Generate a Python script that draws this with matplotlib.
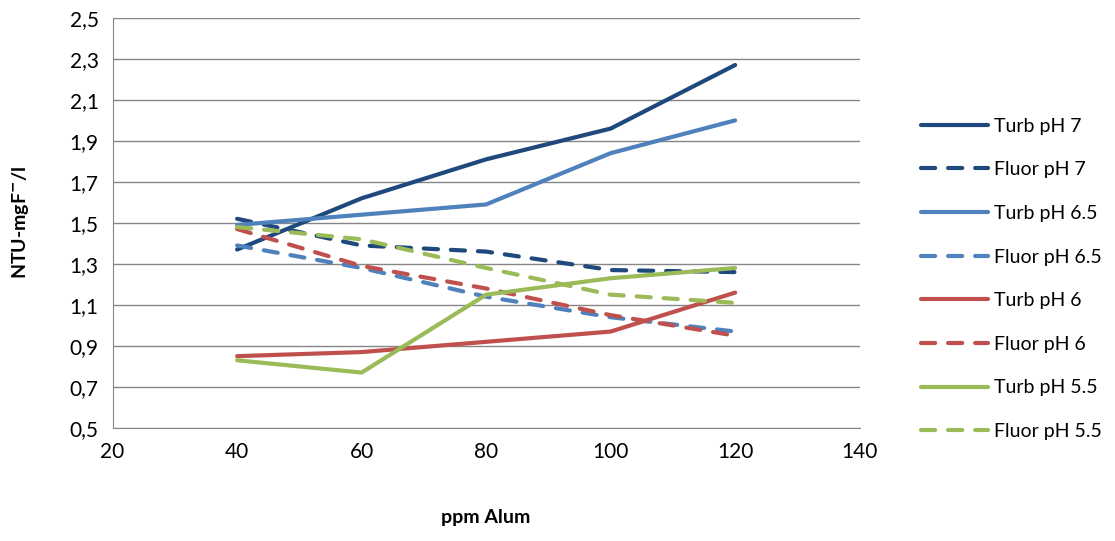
import matplotlib
matplotlib.use("Agg")
import matplotlib.pyplot as plt
from matplotlib.ticker import FuncFormatter

plt.rcParams['font.family'] = ['Lato', 'DejaVu Sans']

# ppm de alum
ppm = [40, 60, 80, 100, 120]

# series (NTU / mgF-/l)
turb_ph7 = [1.37, 1.62, 1.81, 1.96, 2.27]
fluor_ph7 = [1.52, 1.39, 1.36, 1.27, 1.26]
turb_ph65 = [1.49, 1.54, 1.59, 1.84, 2.00]
fluor_ph65 = [1.39, 1.28, 1.14, 1.04, 0.97]
turb_ph6 = [0.85, 0.87, 0.92, 0.97, 1.16]
fluor_ph6 = [1.47, 1.29, 1.18, 1.05, 0.95]
turb_ph55 = [0.83, 0.77, 1.15, 1.23, 1.28]
fluor_ph55 = [1.48, 1.42, 1.28, 1.15, 1.11]

series = [
    ("Turb pH 7", turb_ph7, "#1F497D", "-"),
    ("Fluor pH 7", fluor_ph7, "#1F497D", "--"),
    ("Turb pH 6.5", turb_ph65, "#4F81BD", "-"),
    ("Fluor pH 6.5", fluor_ph65, "#4F81BD", "--"),
    ("Turb pH 6", turb_ph6, "#C0504D", "-"),
    ("Fluor pH 6", fluor_ph6, "#C0504D", "--"),
    ("Turb pH 5.5", turb_ph55, "#9BBB59", "-"),
    ("Fluor pH 5.5", fluor_ph55, "#9BBB59", "--"),
]

fig = plt.figure(figsize=(11.15, 5.41), dpi=100)
ax = fig.add_axes([0.101, 0.209, 0.670, 0.758])

for nome, valores, cor, estilo in series:
    linha, = ax.plot(ppm, valores, color=cor, linestyle=estilo, linewidth=3,
                     label=nome, solid_capstyle='round', dash_capstyle='round')
    if estilo == "--":
        linha.set_dashes((3.4, 3.1))

ax.set_xlim(20, 140)
ax.set_ylim(0.5, 2.5)
ax.set_xticks([20, 40, 60, 80, 100, 120, 140])
ax.set_yticks([0.5 + 0.2 * i for i in range(11)])
ax.yaxis.set_major_formatter(FuncFormatter(lambda v, p: f"{v:.1f}".replace(".", ",")))
ax.tick_params(length=0, labelsize=15, pad=10)
ax.grid(axis='y', color='#868686', linewidth=1)
ax.set_axisbelow(True)
for lado in ['top', 'right']:
    ax.spines[lado].set_visible(False)
ax.spines['left'].set_color('#868686')
ax.spines['bottom'].set_color('#868686')

ax.set_xlabel("ppm Alum", fontsize=14, fontweight='bold', labelpad=34)
ax.set_ylabel("NTU-mgF$^{\\mathbf{-}}$/l", fontsize=14, fontweight='bold', labelpad=28)

fig.legend(loc='upper left', bbox_to_anchor=(0.81, 0.815), frameon=False,
           fontsize=14, handlelength=3.45, handletextpad=0.3, labelspacing=1.37)

plt.savefig("out.png", dpi=100)
